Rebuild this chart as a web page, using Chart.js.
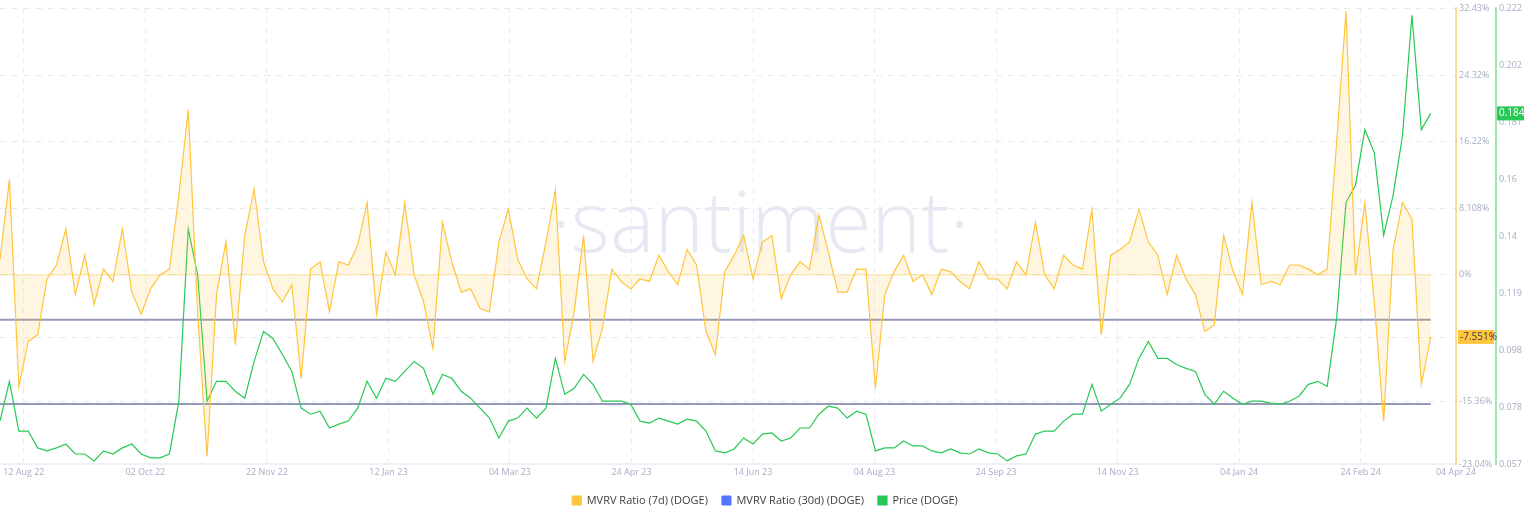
<!DOCTYPE html>
<html>
<head>
<meta charset="utf-8">
<script src="https://cdn.jsdelivr.net/npm/chart.js@4"></script>
<style>
  body { margin: 0; background: #fff; }
  #wrap { width: 1536px; height: 520px; }
</style>
</head>
<body>
<div id="wrap"><canvas id="myChart"></canvas></div>
<script>
// day 0 = 02 Aug 22, one sample about every 4 days
const tickDays = [10, 61, 112, 163, 214, 265, 316, 367, 418, 469, 520, 571, 611];
const tickLabels = ["12 Aug 22", "02 Oct 22", "22 Nov 22", "12 Jan 23", "04 Mar 23", "24 Apr 23",
  "14 Jun 23", "04 Aug 23", "24 Sep 23", "14 Nov 23", "04 Jan 24", "24 Feb 24", "04 Apr 24"];

const mvrv7d = [1.9, 11.6, -13.6, -8.1, -7.3, -0.5, 1.2, 5.6, -2.4, 2.4, -3.6, 0.7, -0.8, 5.6, -2.1, -4.8,
  -1.7, 0, 0.7, 9.7, 20.1, -4.8, -22.1, -2.4, 4.0, -8.5, 4.8, 10.4, 1.6, -1.7, -3.3, -1.2,
  -12.6, 0.7, 1.6, -4.5, 1.6, 1.2, 3.6, 8.8, -4.8, 2.8, 0, 8.8, 0, -3.3, -9.0, 6.4, 1.6, -2.1,
  -1.7, -4.1, -4.5, 4.0, 8.0, 1.9, -0.5, -1.7, 4.0, 10.3, -10.5, -4.5,
  4.8, -10.5, -6.5, 0.7, -0.8, -1.7, -0.5, -0.8, 2.4, 0.4, -1.2, 3.1, 1.2, -6.9, -9.7, 0.4,
  2.4, 4.8, -0.5, 4.0, 4.8, -2.9, 0, 1.6, 0.7, 7.3, 2.8, -2.1, -2.1, 0.7, 0.7,
  -13.8, -2.4, 0.4, 2.4, -0.8, 0, -2.4, 0.7, 0.4, -0.8, -1.7, 1.6, -0.5, -0.5, -1.7, 1.6,
  0, 6.4, 0, -1.7, 2.4, 1.2, 0.7, 8.0, -7.3, 2.4, 3.1, 4.0, 8.0, 4.0,
  2.4, -2.4, 2.4, -0.5, -2.4, -6.9, -6.1, 4.8, 0.4, -2.4, 8.8, -1.2, -0.8, -1.2, 1.2, 1.2,
  0.7, 0, 0.7, 16.1, 32.1, 0, 8.8, -3.3, -17.8, 3.1, 8.8, 6.8, -13.3, -7.551];

const mvrv30d = [];

const price = [0.0726, 0.0870, 0.0690, 0.0690, 0.0629, 0.0618, 0.0629, 0.0643, 0.0607, 0.0607, 0.0582,
  0.0618, 0.0607, 0.0629, 0.0643, 0.0607, 0.0593, 0.0593, 0.0607, 0.0798, 0.1421, 0.1255, 0.0798,
  0.0870, 0.0870, 0.0834, 0.0809, 0.0942, 0.1050, 0.1025, 0.0967, 0.0906,
  0.0773, 0.0751, 0.0762, 0.0701, 0.0715, 0.0726, 0.0773, 0.0870, 0.0809, 0.0881, 0.0870, 0.0906,
  0.0942, 0.0917, 0.0823, 0.0895, 0.0881, 0.0834, 0.0809, 0.0773, 0.0737, 0.0665, 0.0726, 0.0737,
  0.0773, 0.0737, 0.0773, 0.0953, 0.0823, 0.0845,
  0.0895, 0.0859, 0.0798, 0.0798, 0.0798, 0.0787, 0.0726, 0.0719, 0.0737, 0.0726, 0.0715, 0.0733,
  0.0726, 0.0690, 0.0618, 0.0611, 0.0625, 0.0665, 0.0643, 0.0679, 0.0683, 0.0654, 0.0665, 0.0701,
  0.0701, 0.0751, 0.0780, 0.0773, 0.0737, 0.0762, 0.0751,
  0.0618, 0.0629, 0.0629, 0.0654, 0.0636, 0.0636, 0.0618, 0.0611, 0.0625, 0.0611, 0.0607, 0.0625,
  0.0611, 0.0607, 0.0582, 0.0600, 0.0607, 0.0679, 0.0690, 0.0690, 0.0726, 0.0751, 0.0751, 0.0859,
  0.0762, 0.0787, 0.0809, 0.0859, 0.0953, 0.1014,
  0.0953, 0.0953, 0.0931, 0.0917, 0.0906, 0.0823, 0.0787, 0.0834, 0.0809, 0.0787, 0.0798, 0.0798,
  0.0791, 0.0787, 0.0798, 0.0816, 0.0859, 0.0870, 0.0852, 0.1097, 0.1518, 0.1579, 0.1781, 0.1698,
  0.1399, 0.1543, 0.1759, 0.2195, 0.1781, 0.184];

const pctTicks = [-23.04, -15.36, -7.68, 0, 8.108, 16.22, 24.32, 32.43];
const pctLabels = ["-23.04%", "-15.36%", "", "0%", "8.108%", "16.22%", "24.32%", "32.43%"];
const priceLabels = ["0.057", "0.078", "0.098", "0.119", "0.14", "0.16", "0.181", "0.202", "0.222"];
const levelLines = [-5.45, -15.7];

const ORANGE = "#ffc53d";
const GREEN = "#26c953";
const BLUE = "#5275ff";
const TICK = "#a5adc4";

const days = mvrv7d.map((v, i) => i * 3.95);
const lastDay = days[days.length - 1];

const watermark = {
  id: "watermark",
  beforeDatasetsDraw(chart) {
    const { ctx, chartArea } = chart;
    ctx.save();
    ctx.fillStyle = "#e6e9f2";
    ctx.font = "300 84px 'Open Sans', sans-serif";
    ctx.textAlign = "center";
    ctx.textBaseline = "middle";
    ctx.fillText("·santiment·", chartArea.left + 760, chartArea.top + 220);
    ctx.restore();
  }
};

const lastValueTags = {
  id: "lastValueTags",
  afterDraw(chart) {
    const { ctx } = chart;
    const yp = chart.scales.yPct, yv = chart.scales.yPrice;
    ctx.save();
    ctx.font = "10px 'Open Sans', sans-serif";
    ctx.textBaseline = "middle";
    let y = yp.getPixelForValue(mvrv7d[mvrv7d.length - 1]);
    ctx.fillStyle = "#ffc53d";
    ctx.fillRect(yp.left + 2, y - 7, 36, 14);
    ctx.fillStyle = "#3a3a3a";
    ctx.fillText("-7.551%", yp.left + 4, y);
    y = yv.getPixelForValue(price[price.length - 1]);
    ctx.fillStyle = GREEN;
    ctx.fillRect(yv.left + 1, y - 7, 27, 14);
    ctx.fillStyle = "#fff";
    ctx.fillText("0.184", yv.left + 3, y);
    ctx.restore();
  }
};

new Chart(document.getElementById("myChart"), {
  type: "line",
  data: {
    datasets: [
      {
        label: "MVRV Ratio (7d) (DOGE)",
        data: mvrv7d.map((v, i) => ({ x: days[i], y: v })),
        yAxisID: "yPct",
        borderColor: ORANGE,
        backgroundColor: ORANGE,
        borderWidth: 1.2,
        pointRadius: 0,
        tension: 0,
        fill: { target: { value: 0 }, above: "rgba(255,197,61,0.15)", below: "rgba(255,197,61,0.15)" }
      },
      {
        label: "MVRV Ratio (30d) (DOGE)",
        data: mvrv30d,
        yAxisID: "yPct",
        borderColor: BLUE,
        backgroundColor: BLUE,
        pointRadius: 0
      },
      {
        label: "Price (DOGE)",
        data: price.map((v, i) => ({ x: days[i], y: v })),
        yAxisID: "yPrice",
        borderColor: GREEN,
        backgroundColor: GREEN,
        borderWidth: 1.2,
        pointRadius: 0,
        tension: 0
      },
      ...levelLines.map(v => ({
        label: "level",
        data: [{ x: 0, y: v }, { x: lastDay, y: v }],
        yAxisID: "yPct",
        borderColor: "#9499b7",
        borderWidth: 2,
        pointRadius: 0
      })),
      {
        label: "zero",
        data: [{ x: 0, y: 0 }, { x: lastDay, y: 0 }],
        yAxisID: "yPct",
        borderColor: "rgba(255,197,61,0.45)",
        borderWidth: 1,
        pointRadius: 0
      }
    ]
  },
  plugins: [watermark, lastValueTags],
  options: {
    responsive: true,
    maintainAspectRatio: false,
    animation: false,
    layout: { padding: { top: 5, right: 6, left: 0, bottom: 4 } },
    plugins: {
      tooltip: { enabled: false },
      legend: {
        position: "bottom",
        labels: {
          filter: item => item.datasetIndex < 3,
          usePointStyle: true,
          pointStyle: "rect",
          boxWidth: 9,
          boxHeight: 9,
          padding: 14,
          color: "#3d3d3d",
          font: { family: "'Open Sans', sans-serif", size: 11 }
        }
      }
    },
    scales: {
      x: {
        type: "linear",
        min: 0,
        max: 611,
        afterBuildTicks: s => { s.ticks = tickDays.map(v => ({ value: v })); },
        ticks: {
          autoSkip: false,
          maxRotation: 0,
          color: TICK,
          font: { family: "'Open Sans', sans-serif", size: 9 },
          callback: (v, i) => tickLabels[i]
        },
        grid: { color: "#e8eaf3", drawTicks: false, tickBorderDash: [5, 5] },
        border: { color: "#eef0f6", width: 2, dash: [5, 5] }
      },
      yPct: {
        position: "right",
        min: -23.04,
        max: 32.43,
        afterBuildTicks: s => { s.ticks = pctTicks.map(v => ({ value: v })); },
        afterFit: s => { s.width = 40; },
        ticks: {
          color: TICK,
          padding: 3,
          font: { family: "'Open Sans', sans-serif", size: 9 },
          callback: (v, i) => pctLabels[i]
        },
        grid: { color: "#e8eaf3", drawTicks: false },
        border: { color: "rgba(255,197,61,0.55)", width: 2, dash: [6, 6] }
      },
      yPrice: {
        position: "right",
        min: 0.057,
        max: 0.222,
        afterBuildTicks: s => { s.ticks = priceLabels.map((t, i) => ({ value: 0.057 + i * 0.020625 })); },
        afterFit: s => { s.width = 34; },
        ticks: {
          color: TICK,
          padding: 3,
          font: { family: "'Open Sans', sans-serif", size: 9 },
          callback: (v, i) => priceLabels[i]
        },
        grid: { drawOnChartArea: false, drawTicks: false },
        border: { color: "rgba(38,201,83,0.45)", width: 2 }
      }
    }
  }
});
</script>
</body>
</html>
